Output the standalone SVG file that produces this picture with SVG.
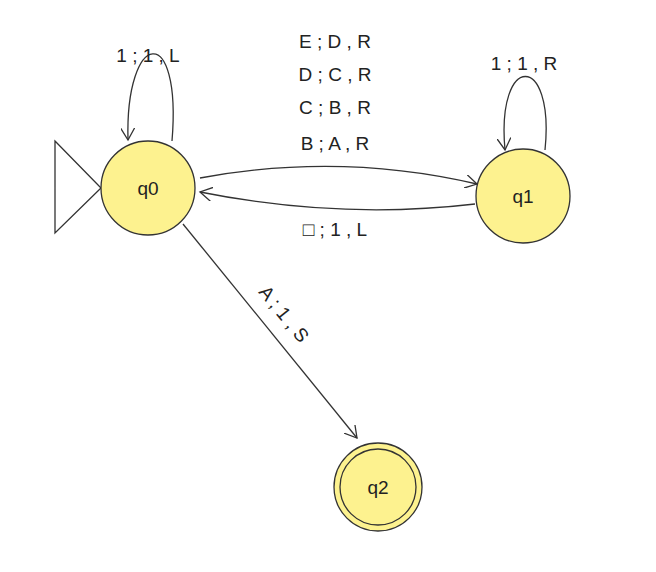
<svg xmlns="http://www.w3.org/2000/svg" width="656" height="572" viewBox="0 0 656 572">
<style>
.st{fill:#fdf28f;stroke:#333;stroke-width:1.3}
.lb{font-family:"Liberation Sans",Arial,sans-serif;font-size:19px;fill:#222;text-anchor:middle}
.e{fill:none;stroke:#333;stroke-width:1.3}
</style>
<defs><marker id="a" markerWidth="14" markerHeight="14" refX="12" refY="7" orient="auto" markerUnits="userSpaceOnUse"><path d="M0,0 L12,7 L0,14" fill="none" stroke="#333" stroke-width="1.3"/></marker></defs>
<rect width="656" height="572" fill="#fff"/>
<g id="connectors">
<path class="e" d="M172,141 C182,20 125,30 128,140" marker-end="url(#a)"/>
<path class="e" d="M545,150 C555,52 496,52 505,150" marker-end="url(#a)"/>
<path class="e" d="M200,178 Q340,152 477,184" marker-end="url(#a)"/>
<path class="e" d="M475,204 Q340,220 200,192" marker-end="url(#a)"/>
<path class="e" d="M183,224 L357,438" marker-end="url(#a)"/>
<text class="lb" x="148" y="62">1 ; 1 , L</text>
<text class="lb" x="524" y="70">1 ; 1 , R</text>
<text class="lb" x="335" y="48">E ; D , R</text>
<text class="lb" x="335" y="81">D ; C , R</text>
<text class="lb" x="335" y="114">C ; B , R</text>
<text class="lb" x="335" y="150">B ; A , R</text>
<text class="lb" x="335" y="236">□ ; 1 , L</text>
<text class="lb" transform="translate(279,318) rotate(51)">A ; 1 , S</text>
</g>
<g id="start"><path d="M55,141 L101,188 L55,233 Z" fill="none" stroke="#333" stroke-width="1.3"/></g>
<g id="q0"><circle class="st" cx="148" cy="188" r="47"/><text class="lb" x="148" y="195">q0</text></g>
<g id="q1"><circle class="st" cx="523" cy="196" r="47"/><text class="lb" x="523" y="203">q1</text></g>
<g id="q2"><circle class="st" cx="378" cy="487" r="44"/><circle class="st" cx="378" cy="487" r="38"/><text class="lb" x="378" y="494">q2</text></g>
</svg>
